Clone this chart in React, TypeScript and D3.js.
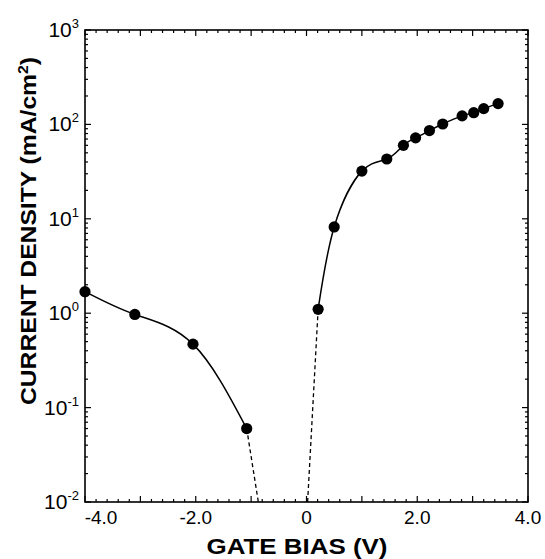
import { useEffect } from 'react';
import * as d3 from 'd3';

// Gate bias (V) vs current density (mA/cm^2)
const negBias = [-4.0, -3.1, -2.05, -1.08];
const negCurrent = [1.69, 0.97, 0.47, 0.06];
const posBias = [0.21, 0.5, 1.0, 1.45, 1.75, 1.97, 2.22, 2.46, 2.81, 3.02, 3.2, 3.46];
const posCurrent = [1.1, 8.2, 32, 43, 60, 72, 86, 101, 123, 133, 147, 166];

// dashed extrapolation down to the axis floor
const negDashBias = [-1.08, -0.87];
const negDashCurrent = [0.06, 0.01];
const posDashBias = [0.02, 0.21];
const posDashCurrent = [0.01, 1.1];

const xLabelTicks = [-4, -2, 0, 2, 4];
const xLabelText = ['-4.0', '-2.0', '0', '2.0', '4.0'];
const yExponents = [-2, -1, 0, 1, 2, 3];

const W = 545;
const H = 559;
const M = { left: 85, right: 528, top: 30, bottom: 502 };
const FONT = '"Liberation Sans", Arial, Helvetica, sans-serif';

export default function App() {
  useEffect(() => {
    document.body.style.margin = '0';
  }, []);

  const x = d3.scaleLinear().domain([-4, 4]).range([M.left, M.right]);
  const y = d3.scaleLog().domain([0.01, 1000]).range([M.bottom, M.top]);

  const line = d3
    .line<[number, number]>()
    .x((d) => x(d[0]))
    .y((d) => y(d[1]))
    .curve(d3.curveNatural);

  const zip = (a: number[], b: number[]) => a.map((v, i) => [v, b[i]] as [number, number]);
  const neg = zip(negBias, negCurrent);
  const pos = zip(posBias, posCurrent);

  // ticks
  const xMajor = d3.range(-4, 4.001, 1);
  const xMinor = d3.range(-4, 4.001, 0.2).filter((v) => Math.abs(v - Math.round(v)) > 0.01);
  const yMajor = yExponents.map((e) => Math.pow(10, e));
  const yMinor: number[] = [];
  yExponents.slice(0, -1).forEach((e) => {
    for (let m = 2; m <= 9; m++) yMinor.push(m * Math.pow(10, e));
  });

  const major = 6;
  const minor = 3;

  return (
    <svg width={W} height={H} style={{ display: 'block', background: '#fff' }} fontFamily={FONT}>
      <g stroke="#000" strokeWidth={1.2} fill="none">
        {xMajor.map((v) => (
          <g key={'xm' + v}>
            <line x1={x(v)} x2={x(v)} y1={M.bottom} y2={M.bottom - major} />
            <line x1={x(v)} x2={x(v)} y1={M.top} y2={M.top + major} />
          </g>
        ))}
        {xMinor.map((v) => (
          <g key={'xn' + v}>
            <line x1={x(v)} x2={x(v)} y1={M.bottom} y2={M.bottom - minor} />
            <line x1={x(v)} x2={x(v)} y1={M.top} y2={M.top + minor} />
          </g>
        ))}
        {yMajor.map((v) => (
          <g key={'ym' + v}>
            <line x1={M.left} x2={M.left + major} y1={y(v)} y2={y(v)} />
            <line x1={M.right} x2={M.right - major} y1={y(v)} y2={y(v)} />
          </g>
        ))}
        {yMinor.map((v) => (
          <g key={'yn' + v}>
            <line x1={M.left} x2={M.left + minor} y1={y(v)} y2={y(v)} />
            <line x1={M.right} x2={M.right - minor} y1={y(v)} y2={y(v)} />
          </g>
        ))}
        <rect x={M.left} y={M.top} width={M.right - M.left} height={M.bottom - M.top} strokeWidth={1.6} />
      </g>

      {/* curves */}
      <path d={line(neg) || ''} fill="none" stroke="#000" strokeWidth={1.5} />
      <path d={line(pos) || ''} fill="none" stroke="#000" strokeWidth={1.5} />
      <path
        d={line(zip(negDashBias, negDashCurrent)) || ''}
        fill="none"
        stroke="#000"
        strokeWidth={1.3}
        strokeDasharray="4,3"
      />
      <path
        d={line(zip(posDashBias, posDashCurrent)) || ''}
        fill="none"
        stroke="#000"
        strokeWidth={1.3}
        strokeDasharray="4,3"
      />

      {/* points */}
      {neg.concat(pos).map((d, i) => (
        <circle key={i} cx={x(d[0])} cy={y(d[1])} r={5.6} fill="#000" />
      ))}

      {/* x tick labels */}
      {xLabelTicks.map((v, i) => (
        <text
          key={'xl' + v}
          x={x(v) + (i === 0 ? 16 : 0)}
          y={524}
          textAnchor="middle"
          fontSize={19}
          fill="#000"
        >
          {xLabelText[i]}
        </text>
      ))}

      {/* y tick labels */}
      {yExponents.map((e) => (
        <text key={'yl' + e} x={79} y={y(Math.pow(10, e)) + 7} textAnchor="end" fontSize={21} fill="#000">
          10
          <tspan dy={-9} fontSize={13}>
            {String(e)}
          </tspan>
        </text>
      ))}

      {/* axis titles */}
      <text
        x={297}
        y={554}
        textAnchor="middle"
        fontSize={22}
        fontWeight="bold"
        fill="#000"
        textLength={181}
        lengthAdjust="spacingAndGlyphs"
      >
        GATE BIAS (V)
      </text>
      <text
        transform={`translate(36,231) rotate(-90)`}
        textAnchor="middle"
        fontSize={22}
        fontWeight="bold"
        fill="#000"
        textLength={348}
        lengthAdjust="spacingAndGlyphs"
      >
        CURRENT DENSITY (mA/cm
        <tspan dy={-8} fontSize={14}>
          2
        </tspan>
        <tspan dy={8}>)</tspan>
      </text>
    </svg>
  );
}
